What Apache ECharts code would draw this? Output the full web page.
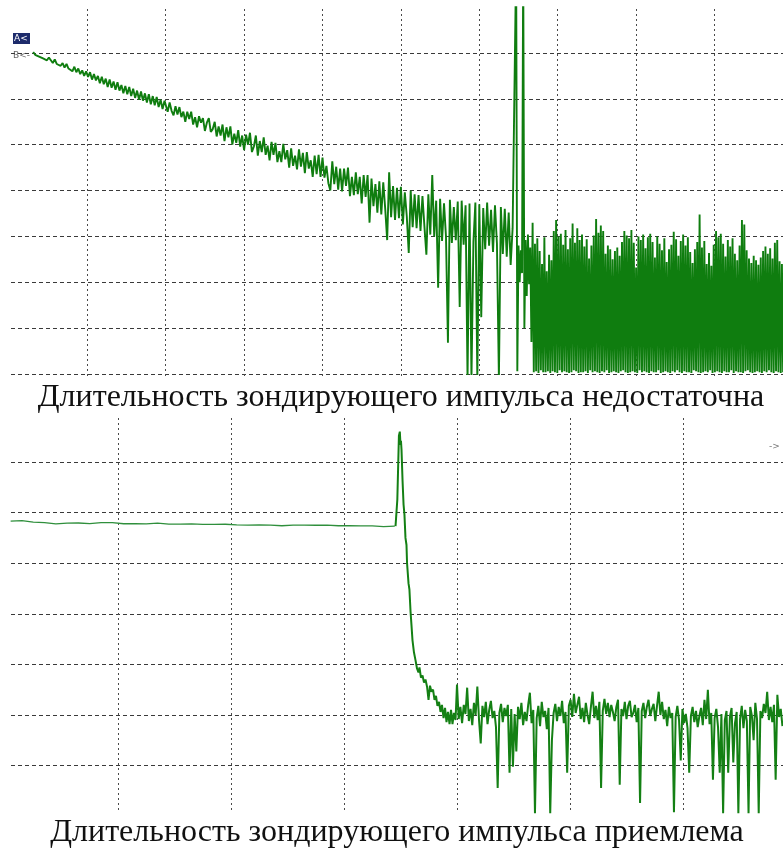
<!DOCTYPE html>
<html>
<head>
<meta charset="utf-8">
<title>Рефлектограммы</title>
<script src="https://cdn.jsdelivr.net/npm/echarts@6/dist/echarts.min.js"></script>
<style>
html,body{margin:0;padding:0;background:#fff;}
#chart{width:783px;height:850px;}
</style>
</head>
<body>
<div id="chart"></div>
<script>
// верхняя рефлектограмма: x в делениях, y в дБ (5 дБ на деление)
var topCaption = 'Длительность зондирующего импульса недостаточна';
var bottomCaption = 'Длительность зондирующего импульса приемлема';

// участок 1 - начало волокна, шаг 0.025 дел.
var topStartA = 0.31, topStepA = 0.025;
var topSegA = [35.1, 34.8, 35.0, 34.6, 34.8, 34.4, 34.6, 34.2, 34.5, 34.3,
  33.9, 34.3, 33.8, 34.0, 33.6, 33.9, 33.4, 33.8, 33.3, 33.5,
  33.0, 33.5, 32.9, 33.3, 32.7, 33.1, 32.5, 33.0, 32.4, 32.9,
  32.1, 32.7, 32.0, 32.5, 31.7, 32.4, 31.6, 32.2, 31.3, 32.1,
  31.2, 31.9, 31.0, 31.8, 30.9, 31.5, 30.6, 31.4, 30.5, 31.3,
  30.3, 31.1, 30.1, 30.9, 29.9, 30.8, 29.8, 30.6, 29.6, 30.5,
  29.4, 30.3, 29.3, 30.2, 29.1, 29.9, 28.9, 29.8];

// участок 2 - шум нарастает, шаг 0.025 дел.
var topStartB = 2.0, topStepB = 0.025;
var topSegB = [29.6, 28.6, 29.6, 28.7, 28.2, 29.2, 28.3, 29.1, 28.0, 28.6,
  27.5, 28.6, 27.8, 28.6, 27.2, 28.0, 26.9, 28.1, 27.4, 27.9,
  26.5, 27.4, 27.9, 26.4, 26.7, 27.5, 25.9, 27.0, 26.0, 27.2,
  25.4, 26.9, 25.8, 27.0, 25.0, 26.2, 25.2, 26.6, 24.8, 26.0,
  24.4, 26.1, 25.0, 26.3, 24.2, 24.8, 26.0, 23.8, 25.4, 24.2,
  25.8, 23.9, 24.9, 23.3, 25.3, 23.9, 25.2, 23.1, 24.3, 23.1,
  25.1, 23.4, 24.4, 22.5, 24.6, 22.7, 23.8, 22.3, 24.5, 22.6,
  24.1, 21.9, 24.2, 22.4, 23.3, 21.5, 23.8, 21.8, 23.9, 21.5,
  23.6, 21.4, 22.7, 20.8, 20.0, 23.2, 20.7, 22.6, 20.1, 22.4,
  19.9, 22.4, 20.5, 22.5, 19.4, 21.5, 19.5, 22.0, 19.6, 21.5,
  18.6, 21.7, 19.3, 21.7, 16.5, 21.3, 18.3, 20.7, 17.6, 21.0,
  17.4, 20.9, 18.0, 14.6, 22.0, 17.1, 20.5, 16.8, 20.3, 17.0,
  20.4, 16.3, 19.8, 17.2, 13.2, 20.0, 16.0, 19.6, 15.9, 19.5,
  15.6, 19.4, 16.1, 13.0, 19.6, 15.2, 21.7, 15.0, 18.9, 9.4,
  19.1, 14.5, 18.6, 15.0, 3.4, 19.0, 14.3, 18.2, 14.6, 18.8,
  7.3, 18.9, 14.1, 18.4, -0.5, 18.6, -0.5, 14.4, 18.7, -0.5,
  18.5, 6.2, 18.1, 13.6, 18.7, 14.0, 17.9, 13.3, 18.4, 14.2,
  -0.5, 18.2, 13.1, 18.0, 12.8, 17.6, 11.9, 15.9];

// участок 3 - отражение и уровень шумов (пики / провалы), шаг 0.015 дел.
var topStartC = 6.47, topStepC = 0.015;
var topPeaks = [45, 14.0, 13.5, 45, 14.6, 15.2, 13.8, 16.5, 14.2, 14.8,
  13.4, 12.0, 14.9, 11.2, 13.0, 12.4, 15.6, 16.8, 15.0, 15.3,
  14.1, 15.7, 13.6, 14.8, 16.4, 14.3, 15.9, 14.6, 15.2, 13.9,
  14.7, 12.6, 14.0, 15.1, 16.9, 15.4, 16.2, 15.6, 13.1, 14.0,
  13.6, 12.5, 13.4, 13.8, 12.9, 14.4, 15.6, 15.1, 14.8, 15.7,
  14.3, 11.6, 15.0, 14.6, 15.2, 13.7, 14.9, 15.3, 14.4, 12.7,
  15.0, 14.2, 13.5, 14.8, 12.2, 13.6, 14.1, 15.5, 14.7, 12.9,
  14.5, 15.2, 14.0, 14.9, 13.3, 12.1, 13.6, 14.4, 17.4, 13.8,
  14.5, 12.0, 13.2, 11.8, 14.1, 15.6, 14.9, 15.3, 14.2, 12.8,
  14.6, 13.9, 14.8, 13.1, 12.4, 14.0, 16.8, 16.3, 13.5, 12.6,
  12.1, 12.9, 12.4, 11.9, 12.7, 13.4, 13.9, 13.1, 13.7, 12.6,
  14.3, 14.6, 12.3, 12.0];
var topTroughs = [0.3, 10.0, 11.0, 5.0, 8.5, 9.8, 3.5, 0.2, 0.3, 0.1,
  0.4, 0.2, 0.2, 0.3, 0.1, 0.3, 0.2, 0.1, 0.4, 0.2,
  0.3, 0.2, 0.1, 0.2, 0.4, 0.3, 0.1, 0.2, 0.2, 0.3,
  0.1, 0.4, 0.2, 0.3, 0.2, 0.1, 0.3, 0.2, 0.4, 0.1,
  0.2, 0.3, 0.2, 0.1, 0.3, 0.4, 0.2, 0.1, 0.2, 0.3,
  0.2, 0.1, 0.4, 0.2, 0.3, 0.2, 0.1, 0.3, 0.2, 0.2,
  0.4, 0.1, 0.2, 0.3, 0.2, 0.1, 0.3, 0.2, 0.4, 0.2,
  0.1, 0.3, 0.2, 0.2, 0.1, 0.4, 0.3, 0.2, 0.1, 0.2,
  0.3, 0.2, 0.4, 0.1, 0.2, 0.3, 0.2, 0.1, 0.3, 0.2,
  0.2, 0.4, 0.1, 0.3, 0.2, 0.2, 0.1, 0.3, 0.4, 0.2,
  0.1, 0.2, 0.3, 0.2, 0.1, 0.3, 0.2, 0.4, 0.2, 0.1,
  0.3, 0.2, 0.1, 0.2];

// нижняя рефлектограмма
var bottomStartFlat = 0.05, bottomStepFlat = 0.1;
var bottomFlat = [29.15, 29.2, 29.05, 29.0, 28.88, 28.96, 28.97, 28.92, 29.0, 29.0, 28.9, 28.91, 28.89, 28.96, 28.87,
  28.86, 28.88, 28.84, 28.83, 28.85, 28.78, 28.77, 28.78, 28.76, 28.7, 28.76, 28.77, 28.75, 28.77, 28.7,
  28.71, 28.69, 28.68, 28.62, 28.67];

// импульс отражения и спад
var bottomPulseX = [3.456, 3.469, 3.472, 3.482, 3.486, 3.494, 3.500, 3.504, 3.509, 3.518, 3.527, 3.535, 3.544, 3.553,
  3.558, 3.571, 3.579, 3.589, 3.597, 3.606, 3.619, 3.633, 3.646, 3.659, 3.668, 3.681, 3.695, 3.708, 3.721, 3.735,
  3.748, 3.761, 3.774, 3.788, 3.801, 3.814, 3.827, 3.841, 3.854, 3.867, 3.881, 3.894, 3.907, 3.920, 3.934, 3.947,
  3.960, 3.973, 3.987];
var bottomPulseDb = [28.67, 28.7, 31.3, 31.4, 37.6, 38.0, 36.7, 37.1, 36.2, 33.2, 30.8, 29.8, 27.5, 26.8,
  25.0, 23.0, 22.4, 20.2, 18.9, 17.4, 16.2, 15.4, 14.6, 14.2, 14.7, 13.7, 13.9, 13.2, 13.5, 12.8,
  11.5, 12.9, 12.3, 12.5, 11.5, 11.9, 10.9, 11.3, 10.3, 11.0, 9.7, 10.7, 9.3, 10.3, 9.1, 10.5,
  9.1, 10.2, 9.5];

// шум после импульса, шаг 0.015 дел.
var bottomStartNoise = 4.0, bottomStepNoise = 0.015;
var bottomNoise = [13.0, 9.6, 10.8, 9.2, 11.0, 10.1, 12.7, 9.4, 10.6, 9.0,
  11.2, 10.0, 12.8, 9.5, 7.2, 10.9, 9.8, 11.3, 9.1, 10.5,
  11.4, 9.7, 10.4, 8.8, 2.8, 10.2, 11.1, 9.3, 10.7, 9.9,
  11.0, 4.3, 10.6, 4.9, 10.1, 6.4, 10.8, 9.6, 11.2, 9.0,
  10.3, 9.4, 11.0, 12.2, 9.2, 10.5, 0.3, 9.7, 10.9, 8.9,
  11.3, 9.8, 10.4, 8.6, 10.7, 0.3, 7.5, 10.2, 11.1, 9.4,
  10.8, 9.9, 11.4, 9.2, 10.3, 4.3, 10.9, 11.5, 9.8, 12.1,
  10.2, 11.0, 11.8, 9.6, 10.7, 9.3, 11.2, 10.0, 9.1, 10.8,
  12.3, 9.7, 10.9, 9.5, 11.3, 2.8, 10.4, 11.6, 10.1, 11.2,
  9.8, 11.0, 10.3, 9.4, 10.8, 11.5, 3.1, 10.6, 9.9, 11.3,
  9.6, 10.9, 11.4, 9.8, 10.2, 11.0, 9.3, 10.7, 1.3, 10.4,
  11.2, 9.7, 10.8, 11.5, 9.9, 10.6, 11.1, 9.4, 10.9, 12.3,
  10.0, 11.3, 9.6, 10.5, 8.9, 10.8, 9.7, 10.2, 0.4, 9.8,
  10.9, 9.5, 5.5, 10.6, 9.2, 10.1, 8.7, 4.3, 9.9, 10.8,
  9.3, 10.4, 8.8, 9.9, 10.7, 9.0, 11.5, 9.6, 12.5, 9.1,
  10.2, 3.6, 9.7, 10.6, 8.8, 4.3, 10.1, 0.3, 9.5, 10.4,
  4.3, 9.8, 10.7, 5.3, 9.2, 10.3, 0.3, 9.6, 10.9, 8.7,
  10.5, 9.4, 0.3, 10.8, 9.9, 7.5, 11.2, 9.6, 0.3, 10.4,
  9.7, 11.1, 10.2, 12.3, 9.5, 10.8, 9.3, 11.0, 3.6, 12.0,
  9.8, 10.6, 8.9];

// равномерная выборка -> пары [x, y]
function sampled(start, step, values){
  return values.map(function(v, i){ return [start + i * step, v]; });
}

var topData = sampled(topStartA, topStepA, topSegA).concat(sampled(topStartB, topStepB, topSegB));
var tail = [];
for(var i = 0; i < topPeaks.length; i++){
  tail.push(topPeaks[i], topTroughs[i]);
}
topData = topData.concat(sampled(topStartC, topStepC, tail));

var bottomFlatData = sampled(bottomStartFlat, bottomStepFlat, bottomFlat);
bottomFlatData.push([bottomPulseX[0], bottomPulseDb[0]]);
var bottomPulseData = bottomPulseX.map(function(x, i){ return [x, bottomPulseDb[i]]; })
  .concat(sampled(bottomStartNoise, bottomStepNoise, bottomNoise));

var hLine = { color: '#3a3a3a', width: 1, type: [4, 3] };
var vLine = { color: '#4a4a4a', width: 1, type: [2, 3] };

function hiddenAxis(grid, min, max){
  return { type: 'value', gridIndex: grid, min: min, max: max, show: false };
}
function lineAxis(grid, min, max, interval, style, showMin){
  return {
    type: 'value', gridIndex: grid, min: min, max: max, interval: interval,
    axisLine: {show: false}, axisTick: {show: false}, axisLabel: {show: false},
    splitLine: {show: true, showMinLine: showMin, showMaxLine: false, lineStyle: style}
  };
}

var myChart = echarts.init(document.getElementById('chart'), null, {renderer: 'canvas'});
var option = {
  animation: false,
  backgroundColor: '#fff',
  grid: [
    {left: 8.9, top: 7.12, width: 784, height: 366.88, outerBoundsMode: 'none'},   // верх: данные
    {left: 8.9, top: 9, width: 784, height: 368, outerBoundsMode: 'none'},         // верх: вертикальная сетка
    {left: 11, top: 7.12, width: 790, height: 366.88, outerBoundsMode: 'none'},    // верх: горизонтальная сетка
    {left: 5, top: 411.4, width: 791, height: 404.8, outerBoundsMode: 'none'},     // низ: данные
    {left: 5, top: 418, width: 791, height: 395, outerBoundsMode: 'none'},         // низ: вертикальная сетка
    {left: 11, top: 411.4, width: 790, height: 404.8, outerBoundsMode: 'none'}     // низ: горизонтальная сетка
  ],
  xAxis: [
    hiddenAxis(0, 0, 10),
    lineAxis(1, 0, 10, 1, vLine, false),
    hiddenAxis(2, 0, 10),
    hiddenAxis(3, 0, 7),
    lineAxis(4, 0, 7, 1, vLine, false),
    hiddenAxis(5, 0, 7)
  ],
  yAxis: [
    hiddenAxis(0, 0, 40),
    hiddenAxis(1, 0, 1),
    lineAxis(2, 0, 40, 5, hLine, true),
    hiddenAxis(3, 0, 40),
    hiddenAxis(4, 0, 1),
    lineAxis(5, 0, 40, 5, hLine, false)
  ],
  graphic: [
    {type: 'rect', shape: {x: 13, y: 33, width: 17, height: 11}, style: {fill: '#1d2b6b'}, silent: true},
    {type: 'text', x: 14, y: 34, silent: true, style: {text: 'A<', fill: '#fff', font: '9px "DejaVu Sans"'}},
    {type: 'text', x: 13, y: 51, silent: true, style: {text: 'B<-', fill: '#666', font: '9px "DejaVu Sans"'}},
    {type: 'text', x: 769, y: 442, silent: true, style: {text: '->', fill: '#777', font: '9px "DejaVu Sans"'}},
    {type: 'text', x: 401, y: 398, silent: true,
      style: {text: topCaption, fill: '#111', font: '32px "Liberation Serif"', textAlign: 'center', textVerticalAlign: 'middle'}},
    {type: 'text', x: 397, y: 833, silent: true,
      style: {text: bottomCaption, fill: '#111', font: '32px "Liberation Serif"', textAlign: 'center', textVerticalAlign: 'middle'}}
  ],
  series: [
    {
      name: 'top', type: 'line', xAxisIndex: 0, yAxisIndex: 0,
      data: topData, symbol: 'none', showSymbol: false, silent: true, clip: true,
      lineStyle: {color: '#0f7d0f', width: 1.9}
    },
    {
      name: 'bottomFlat', type: 'line', xAxisIndex: 3, yAxisIndex: 3,
      data: bottomFlatData, symbol: 'none', showSymbol: false, silent: true, clip: true,
      lineStyle: {color: '#2f8f3c', width: 1.3}
    },
    {
      name: 'bottomPulse', type: 'line', xAxisIndex: 3, yAxisIndex: 3,
      data: bottomPulseData, symbol: 'none', showSymbol: false, silent: true, clip: true,
      lineStyle: {color: '#148014', width: 2.0}
    }
  ]
};
myChart.setOption(option);
</script>
</body>
</html>
